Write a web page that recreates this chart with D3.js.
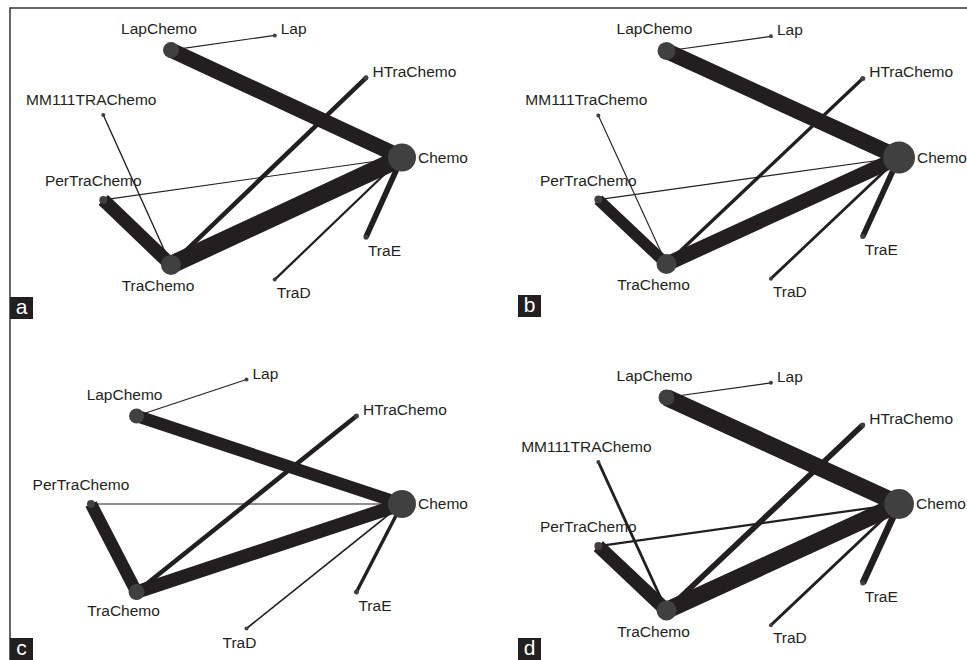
<!DOCTYPE html>
<meta charset="utf-8">
<style>
body { margin: 0; background: #fff; }
text { font-family: "Liberation Sans", Arial, sans-serif; }
</style>
<head>
    <title>Network plots</title>
</head>

<script src="https://d3js.org/d3.v7.min.js"></script>

<div id="chart"></div>

<script>
// treatments in layout order (alphabetical, counter-clockwise from Chemo)
var treatmentsA = ["Chemo", "HTraChemo", "Lap", "LapChemo", "MM111TRAChemo", "PerTraChemo", "TraChemo", "TraD", "TraE"];
var treatmentsB = ["Chemo", "HTraChemo", "Lap", "LapChemo", "MM111TraChemo", "PerTraChemo", "TraChemo", "TraD", "TraE"];
var treatmentsC = ["Chemo", "HTraChemo", "Lap", "LapChemo", "PerTraChemo", "TraChemo", "TraD", "TraE"];
var treatmentsD = ["Chemo", "HTraChemo", "Lap", "LapChemo", "MM111TRAChemo", "PerTraChemo", "TraChemo", "TraD", "TraE"];

// node sizes (same order as treatments)
var nodeSizeA = [14, 2.5, 2, 8, 2, 4, 10, 2, 2.5];
var nodeSizeB = [16, 2.5, 2, 9, 2, 4, 10, 2, 2.5];
var nodeSizeC = [14, 2.5, 2, 7.5, 4, 8, 2, 2.5];
var nodeSizeD = [15, 2.5, 2, 8, 2, 4, 10, 2, 2.5];

// comparisons (edges)
var edgesA = [["LapChemo", "Chemo"], ["TraChemo", "Chemo"], ["PerTraChemo", "TraChemo"], ["HTraChemo", "TraChemo"],
              ["TraE", "Chemo"], ["TraD", "Chemo"], ["Lap", "LapChemo"], ["MM111TRAChemo", "TraChemo"], ["PerTraChemo", "Chemo"]];
var edgesB = [["LapChemo", "Chemo"], ["TraChemo", "Chemo"], ["PerTraChemo", "TraChemo"], ["HTraChemo", "TraChemo"],
              ["TraE", "Chemo"], ["TraD", "Chemo"], ["Lap", "LapChemo"], ["MM111TraChemo", "TraChemo"], ["PerTraChemo", "Chemo"]];
var edgesC = [["LapChemo", "Chemo"], ["TraChemo", "Chemo"], ["PerTraChemo", "TraChemo"], ["HTraChemo", "TraChemo"],
              ["TraE", "Chemo"], ["TraD", "Chemo"], ["Lap", "LapChemo"], ["PerTraChemo", "Chemo"]];
var edgesD = edgesA;

// edge thickness values (same order as edges)
var edgeWidthA = [13.5, 16, 12, 4, 5, 2, 1, 1.2, 1];
var edgeWidthB = [14, 13, 10, 3, 5, 2.5, 1, 1, 1];
var edgeWidthC = [11, 12, 11, 4, 3, 1.5, 1, 1];
var edgeWidthD = [15, 15, 12, 5, 6, 2.5, 1, 2.5, 2];

var panelLetters = ["a", "b", "c", "d"];

var W = 967, H = 660;
var svg = d3.select("#chart").append("svg")
    .attr("width", W).attr("height", H);

// frame
svg.append("path")
    .attr("d", "M10,660 L10,8 L967,8")
    .attr("fill", "none")
    .attr("stroke", "#333")
    .attr("stroke-width", 1.5);

var panels = [
  {letter: panelLetters[0], tr: treatmentsA, size: nodeSizeA, edges: edgesA, w: edgeWidthA, cx: 248, cy: 157.5, rx: 154, ry: 124, lx: 10, ly: 297},
  {letter: panelLetters[1], tr: treatmentsB, size: nodeSizeB, edges: edgesB, w: edgeWidthB, cx: 744, cy: 157.5, rx: 155, ry: 123, lx: 518, ly: 295},
  {letter: panelLetters[2], tr: treatmentsC, size: nodeSizeC, edges: edgesC, w: edgeWidthC, cx: 246.5, cy: 504, rx: 155.5, ry: 124.5, lx: 10, ly: 638},
  {letter: panelLetters[3], tr: treatmentsD, size: nodeSizeD, edges: edgesD, w: edgeWidthD, cx: 744, cy: 504, rx: 155, ry: 123, lx: 518, ly: 638}
];

var widthScale = d3.scaleLinear().domain([0, 16]).range([0, 18]);
var sizeScale = d3.scaleLinear().domain([0, 16]).range([0, 16]);

// label placement by angle on the circle layout
function labelPlace(deg, px, py, r) {
  if (deg < 1) return {x: px + r + 2, y: py + 5, a: "start"};
  if (deg <= 91) return {x: px + r + 4, y: py - 1, a: "start"};
  if (deg < 180) return {x: px - 12, y: py - r - 8, a: "middle"};
  if (deg < 224) return {x: px - 10, y: py - r - 10, a: "middle"};
  if (deg < 269) return {x: px - 13, y: py + r + 16, a: "middle"};
  if (deg < 271) return {x: px - 7, y: py + r + 17, a: "middle"};
  return {x: px + 2, y: py + r + 16, a: "start"};
}

panels.forEach(function(p) {
  var n = p.tr.length;
  var x = d3.scaleLinear().domain([-1, 1]).range([p.cx - p.rx, p.cx + p.rx]);
  var y = d3.scaleLinear().domain([-1, 1]).range([p.cy + p.ry, p.cy - p.ry]);

  var nodes = p.tr.map(function(name, i) {
    var ang = 2 * Math.PI * i / n;
    return {name: name, deg: 360 * i / n, px: x(Math.cos(ang)), py: y(Math.sin(ang)), r: sizeScale(p.size[i])};
  });
  var byName = {};
  nodes.forEach(function(d) { byName[d.name] = d; });

  var g = svg.append("g");

  g.selectAll("line.edge")
    .data(p.edges)
    .enter()
    .append("line")
      .attr("class", "edge")
      .attr("x1", function(d) { return byName[d[0]].px; })
      .attr("y1", function(d) { return byName[d[0]].py; })
      .attr("x2", function(d) { return byName[d[1]].px; })
      .attr("y2", function(d) { return byName[d[1]].py; })
      .attr("stroke", "#231f20")
      .attr("stroke-width", function(d, i) { return widthScale(p.w[i]); });

  g.selectAll("circle")
    .data(nodes)
    .enter()
    .append("circle")
      .attr("cx", function(d) { return d.px; })
      .attr("cy", function(d) { return d.py; })
      .attr("r", function(d) { return d.r; })
      .attr("fill", "#404040");

  g.selectAll("text.lab")
    .data(nodes)
    .enter()
    .append("text")
      .attr("class", "lab")
      .each(function(d) {
        var L = labelPlace(d.deg, d.px, d.py, d.r);
        d3.select(this).attr("x", L.x).attr("y", L.y).attr("text-anchor", L.a);
      })
      .attr("font-size", 15.5)
      .attr("fill", "#231f20")
      .text(function(d) { return d.name; });

  // panel letter box
  g.append("rect")
    .attr("x", p.lx).attr("y", p.ly)
    .attr("width", 23).attr("height", 22)
    .attr("fill", "#231f20");
  g.append("text")
    .attr("x", p.lx + 11.5).attr("y", p.ly + 17)
    .attr("text-anchor", "middle")
    .attr("font-size", 21)
    .attr("fill", "#fff")
    .text(p.letter);
});
</script>
